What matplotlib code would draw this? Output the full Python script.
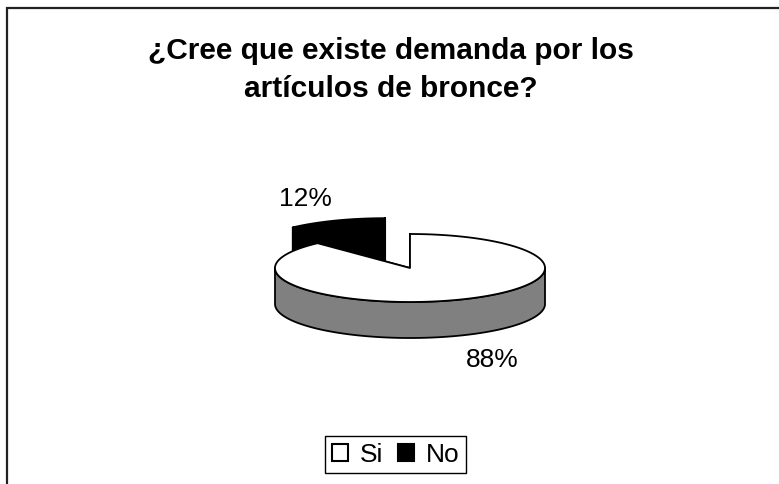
import numpy as np
import matplotlib
matplotlib.use("Agg")
import matplotlib.pyplot as plt
from matplotlib.patches import Polygon, Rectangle, Patch

title = "¿Cree que existe demanda por los\nartículos de bronce?"
labels = ["Si", "No"]
values = [88, 12]
top_colors = ["white", "black"]
side_colors = ["#808080", "black"]

plt.rcParams['font.family'] = ['Liberation Sans', 'DejaVu Sans']

W, H = 779, 484
fig = plt.figure(figsize=(W / 100, H / 100), dpi=100)
ax = fig.add_axes([0, 0, 1, 1])
ax.set_xlim(0, W)
ax.set_ylim(H, 0)
ax.axis('off')

# pie geometry, in pixels
cx, cy = 410, 268
a, b, depth = 135, 34, 36
explode = [0.0, 0.5]
label_r = [1.66, 1.6]


def pt(t, x0, y0, dz=0.0):
    r = np.radians(t)
    return x0 + a * np.cos(r), y0 - b * np.sin(r) + dz


def arc(t1, t2, x0, y0, dz=0.0):
    ts = np.linspace(t1, t2, max(int(abs(t2 - t1)), 2) + 1)
    return [pt(t, x0, y0, dz) for t in ts]


total = sum(values)
# No slice runs counter-clockwise from 12 o'clock, Si takes the rest
spans = []
start = 90.0
for v in values[::-1]:
    end = start + 360.0 * v / total
    spans.append((start, end))
    start = end
spans = spans[::-1]

# draw the back (exploded) slice first
for i in [1, 0]:
    s, e = spans[i]
    mid = np.radians((s + e) / 2)
    x0 = cx + explode[i] * a * np.cos(mid)
    y0 = cy - explode[i] * b * np.sin(mid)
    kw = dict(edgecolor='black', linewidth=1.3, joinstyle='round')

    # radial faces
    for t in (s, e):
        quad = [(x0, y0), pt(t, x0, y0), pt(t, x0, y0, depth), (x0, y0 + depth)]
        ax.add_patch(Polygon(quad, closed=True, facecolor=side_colors[i], **kw))

    # outer side, front half only
    for lo, hi in [(180, 360), (540, 720)]:
        t1, t2 = max(s, lo), min(e, hi)
        if t2 > t1:
            poly = arc(t1, t2, x0, y0) + arc(t2, t1, x0, y0, depth)
            ax.add_patch(Polygon(poly, closed=True, facecolor=side_colors[i], **kw))

    # top face
    poly = [(x0, y0)] + arc(s, e, x0, y0)
    ax.add_patch(Polygon(poly, closed=True, facecolor=top_colors[i], **kw))

    # percentage label
    lx = x0 + label_r[i] * a * np.cos(mid)
    ly = y0 - label_r[i] * b * np.sin(mid) + (depth + 4 if np.sin(mid) < 0 else -3)
    ax.text(lx, ly, f"{values[i] / total:.0%}", ha='center', va='center',
            fontsize=19)

ax.text(W / 2 + 1, 70, title, ha='center', va='center', fontsize=21.5,
        fontweight='bold', linespacing=1.45)

# chart area border (only top and left are inside the picture)
fig.patches.append(Rectangle((7 / W, -0.5), 1.2, 1.5 - 8 / H, transform=fig.transFigure,
                             fill=False, edgecolor='#222222', linewidth=1.6))

handles = [Patch(facecolor=c, edgecolor='black', linewidth=1.5) for c in top_colors]
ax.legend(handles, labels, loc='center', bbox_to_anchor=(395.5 / W, 1 - 454.5 / H),
          bbox_transform=fig.transFigure, ncol=2, fontsize=19, frameon=True,
          fancybox=False, edgecolor='black', framealpha=1, handlelength=0.62,
          handleheight=0.62, handletextpad=0.45, columnspacing=0.55,
          borderpad=0.25, borderaxespad=0)
ax.get_legend().get_frame().set_linewidth(1.0)

fig.savefig("out.png", dpi=100)
